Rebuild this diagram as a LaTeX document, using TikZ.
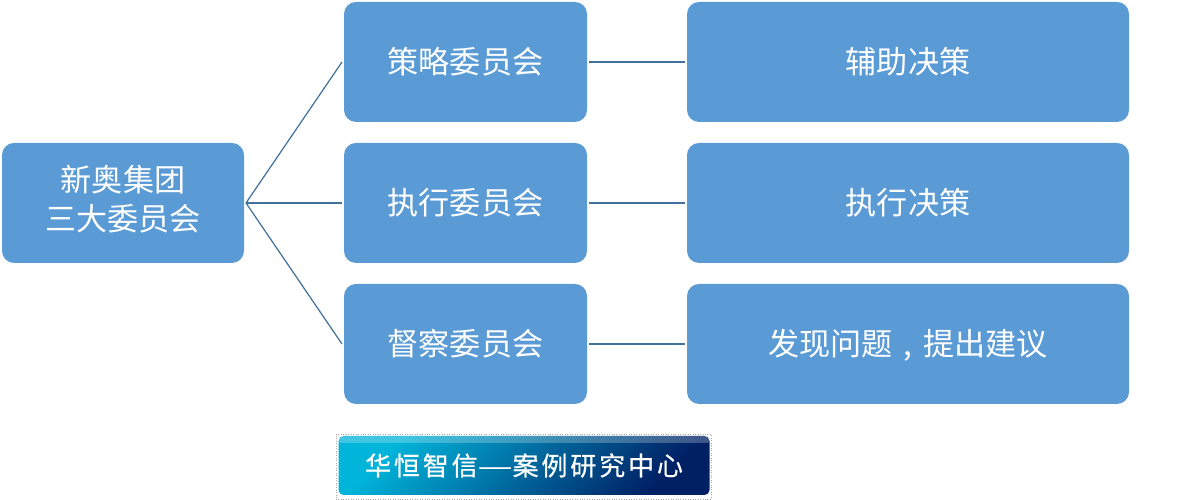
\documentclass[tikz,border=0pt]{standalone}
\usepackage{graphicx}
\usepackage{fontspec}
\setmainfont{Noto Sans CJK SC}
\newfontfamily\bannerfont[LetterSpace=11,FakeBold=0.6]{Noto Sans CJK SC}
\definecolor{boxblue}{RGB}{91,155,213}
\definecolor{linkblue}{RGB}{65,113,156}
\definecolor{bannerleft}{RGB}{0,180,218}
\definecolor{bannermid}{RGB}{0,110,170}
\definecolor{bannerright}{RGB}{0,32,100}

\begin{document}
\begin{tikzpicture}[scale=1,
    panel/.style={fill=boxblue,rounded corners=0.24cm,text=white,align=center,
      font=\fontsize{17.7}{22.2}\selectfont,outer sep=0.04cm,
      text height=15.6pt,text depth=2.7pt,
      minimum height=2.4cm,inner sep=0pt},
    link/.style={linkblue,line width=0.7pt}]
    \useasboundingbox (0,0) rectangle (24.04,10);

    %root
    \node [panel,minimum width=4.84cm,text height=34.3pt] (group) at (2.46,5.94) {新奥集团\\三大委员会};

    %committees
    \node [panel,minimum width=4.86cm] (strategy) at (9.31,8.76) {策略委员会};
    \node [panel,minimum width=4.86cm] (execute) at (9.31,5.94) {执行委员会};
    \node [panel,minimum width=4.86cm] (inspect) at (9.31,3.12) {督察委员会};

    %roles
    \node [panel,minimum width=8.84cm] (assist) at (18.16,8.76) {辅助决策};
    \node [panel,minimum width=8.84cm] (decide) at (18.16,5.94) {执行决策};
    \node [panel,minimum width=8.84cm] (advise) at (18.16,3.12) {发现问题\makebox[1em][c]{,}提出建议};

    \foreach \c in {strategy,execute,inspect}
      \draw [link] (group.east) -- (\c.west);
    \draw [link] (strategy) -- (assist);
    \draw [link] (execute) -- (decide);
    \draw [link] (inspect) -- (advise);

    %banner
    \node [draw=black!35,densely dotted,minimum width=7.5cm,minimum height=1.3cm,inner sep=0pt]
      (frame) at (10.47,0.67) {};
    \shade [rounded corners=0.1cm,left color=bannerleft,middle color=bannermid,right color=bannerright,shading angle=45]
      (6.77,0.1) rectangle (14.19,1.28);
    \fill [white,opacity=0.25,rounded corners=0.05cm] (6.77,1.14) rectangle (14.19,1.28);
    \node [text=white,font=\bannerfont\fontsize{14.8}{16}\selectfont,inner sep=0pt]
      (banner) at (10.48,0.69) {华恒智信\scalebox{1.5}[1]{—}案例研究中心};
\end{tikzpicture}
\end{document}
